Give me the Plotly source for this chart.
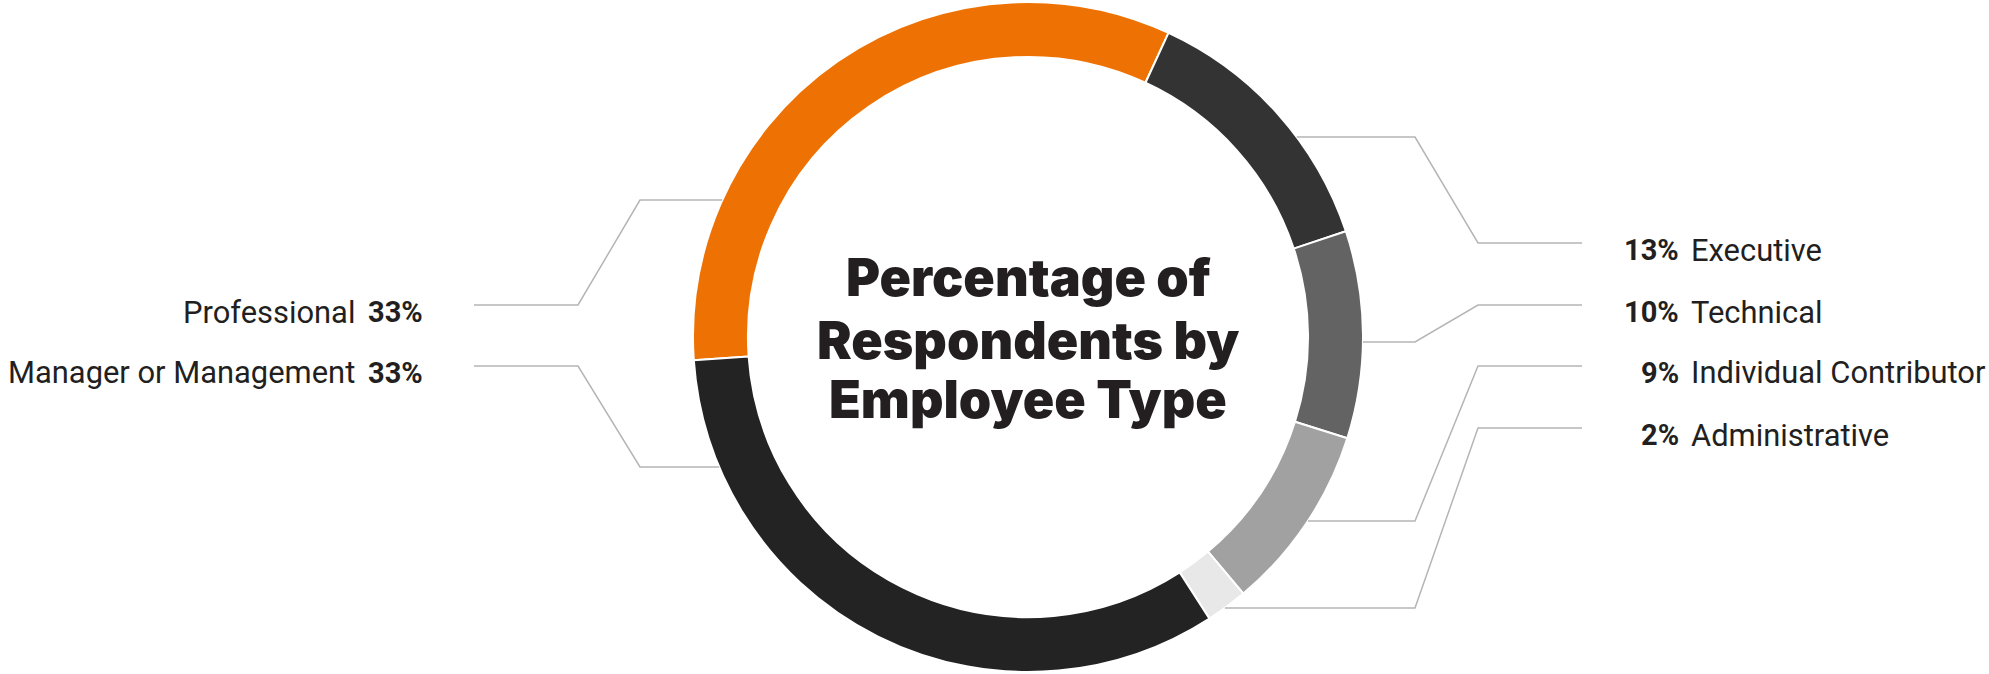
import math
import plotly.graph_objects as go

# Survey breakdown, in clockwise order starting just below 9 o'clock
categories = ["Professional", "Executive", "Technical",
              "Individual Contributor", "Administrative", "Manager or Management"]
values = [33, 13, 10, 9, 2, 33]
colors = ["#EE7203", "#333333", "#636363", "#A1A1A1", "#E8E8E8", "#232323"]
sides = ["left", "right", "right", "right", "right", "left"]

title_lines = ["Percentage of", "Respondents by", "Employee Type"]

W, H = 1989, 674
CX, CY, R = 1028, 337, 335
HOLE = 0.836

# label rows (pixel y of text centre) and where each leader meets the ring
row_y = {"Professional": 312, "Manager or Management": 373,
         "Executive": 250, "Technical": 312,
         "Individual Contributor": 373, "Administrative": 435}
ring_y = {"Professional": 200, "Manager or Management": 467,
          "Executive": 137, "Technical": 342,
          "Individual Contributor": 521, "Administrative": 608}
title_y = [277, 340, 400]

INK = "#231f20"
LINE = "#b5b5b5"
NAME_FONT = dict(family="Roboto", size=30.9, color=INK)
PCT_FONT = dict(family="Roboto", size=29, color=INK, weight=700)


def px(x):
    return x / W


def py(y):
    return 1 - y / H


fig = go.Figure()
fig.add_trace(go.Pie(
    labels=categories, values=values, sort=False, direction="clockwise",
    rotation=-94, hole=HOLE, textinfo="none", hoverinfo="label+percent",
    marker=dict(colors=colors, line=dict(color="white", width=2)),
    domain=dict(x=[px(CX - R), px(CX + R)], y=[py(CY + R), py(CY - R)]),
    showlegend=False,
))

shapes = []
annotations = []
for name, val, side in zip(categories, values, sides):
    ty = row_y[name]
    ly = ty - 7
    ay = ring_y[name]
    dx = math.sqrt(max(R * R - (ay - CY) ** 2, 0))
    if side == "left":
        rx = CX - dx
        pts = [(474, ly), (578, ly), (640, ay), (rx, ay)]
        annotations.append(dict(x=px(425), y=py(ty), text=f"{val}%", xanchor="right",
                                font=PCT_FONT))
        annotations.append(dict(x=px(357), y=py(ty), text=name, xanchor="right",
                                font=NAME_FONT))
    else:
        rx = CX + dx
        pts = [(rx, ay), (1415, ay), (1478, ly), (1582, ly)]
        annotations.append(dict(x=px(1681), y=py(ty), text=f"{val}%", xanchor="right",
                                font=PCT_FONT))
        annotations.append(dict(x=px(1689), y=py(ty), text=name, xanchor="left",
                                font=NAME_FONT))
    path = "M " + " L ".join(f"{px(x)},{py(y)}" for x, y in pts)
    shapes.append(dict(type="path", path=path, xref="paper", yref="paper",
                       line=dict(color=LINE, width=1.5)))

for a in annotations:
    a.update(xref="paper", yref="paper", yanchor="middle", showarrow=False)

for line, y in zip(title_lines, title_y):
    annotations.append(dict(
        x=px(CX), y=py(y), xref="paper", yref="paper", showarrow=False,
        text=line, xanchor="center", yanchor="middle",
        font=dict(family="Inter", size=52, color=INK, weight=900),
    ))

fig.update_layout(
    width=W, height=H, margin=dict(l=0, r=0, t=0, b=0),
    paper_bgcolor="white", plot_bgcolor="white",
    shapes=shapes, annotations=annotations,
)

fig.write_html("out.html")
